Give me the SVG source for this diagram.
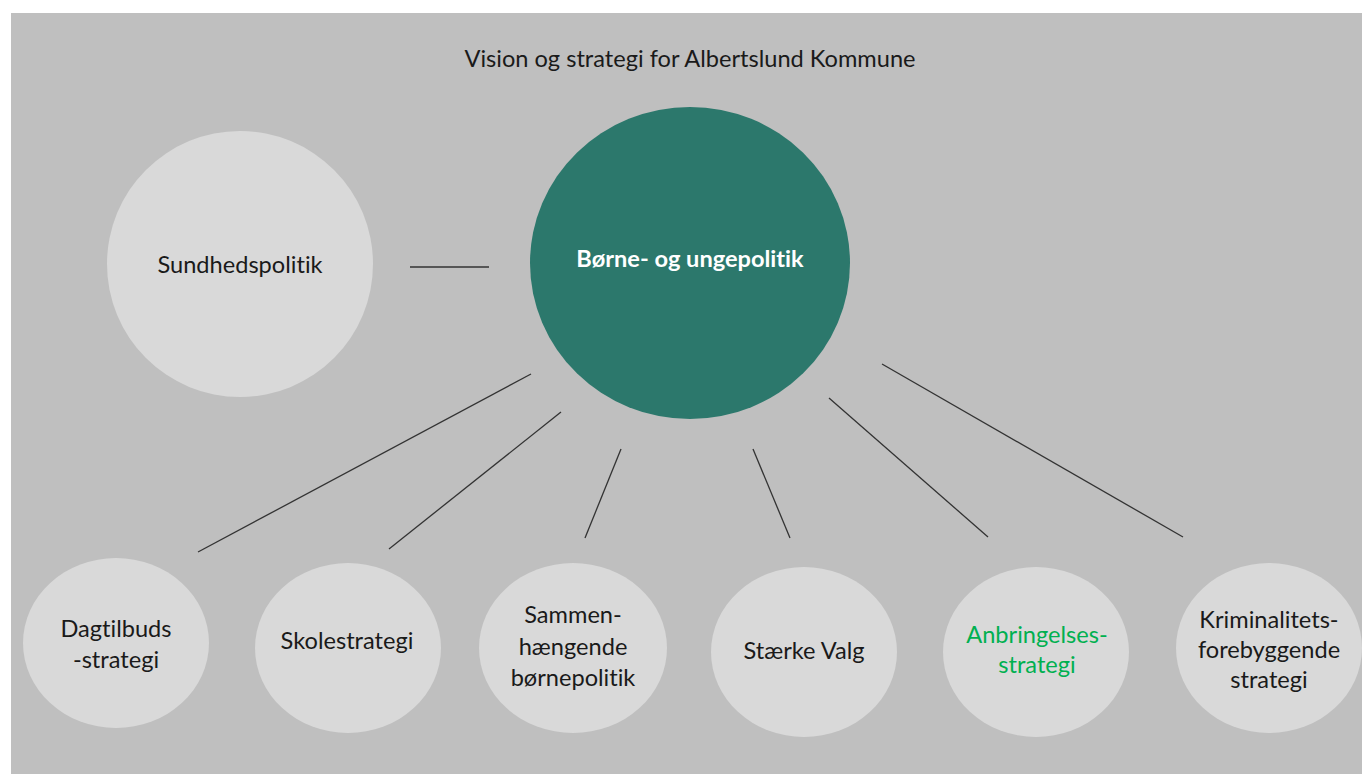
<svg xmlns="http://www.w3.org/2000/svg" width="1362" height="774" viewBox="0 0 1362 774">
<style>
.bg{fill:#bfbfbf}
.node{fill:#d9d9d9}
.main{fill:#2c786c}
.t{font-family:Lato,"Open Sans","Liberation Sans",sans-serif;font-size:23.6px;fill:#1a1a1a;text-anchor:middle;font-variant-ligatures:none;font-feature-settings:"liga" 0}
.w{fill:#ffffff;font-weight:bold}
.g{fill:#00b050}
.conn line{stroke:#333333;stroke-width:1.3;fill:none}
</style>
<rect x="0" y="0" width="1362" height="774" fill="#ffffff"/>
<rect class="bg" x="11" y="13" width="1351" height="761"/>
<text class="t" x="690" y="67">Vision og strategi for Albertslund Kommune</text>
<g class="conn" id="connectors">
<line x1="410" y1="267" x2="489" y2="267"/>
<line x1="531" y1="374" x2="198" y2="552"/>
<line x1="561" y1="412" x2="389" y2="549"/>
<line x1="621" y1="449" x2="585" y2="538"/>
<line x1="753" y1="449" x2="790" y2="538"/>
<line x1="829" y1="398" x2="988" y2="537"/>
<line x1="882" y1="364" x2="1183" y2="537"/>
</g>
<g id="sundhed">
<circle class="node" cx="240" cy="264" r="133"/>
<text class="t" x="240" y="273">Sundhedspolitik</text>
</g>
<g id="boerne">
<ellipse class="main" cx="690" cy="263" rx="160" ry="156"/>
<text class="t w" x="690" y="267">Børne- og ungepolitik</text>
</g>
<g id="dagtilbud">
<ellipse class="node" cx="116" cy="643" rx="93" ry="85"/>
<text class="t" x="116" y="637">Dagtilbuds</text>
<text class="t" x="116" y="668">-strategi</text>
</g>
<g id="skole">
<ellipse class="node" cx="348" cy="648" rx="93" ry="85"/>
<text class="t" x="347" y="649">Skolestrategi</text>
</g>
<g id="sammen">
<ellipse class="node" cx="573" cy="648" rx="94" ry="85"/>
<text class="t" x="573" y="623">Sammen-</text>
<text class="t" x="573" y="655">hængende</text>
<text class="t" x="573" y="686">børnepolitik</text>
</g>
<g id="staerke">
<ellipse class="node" cx="804" cy="652" rx="93" ry="85"/>
<text class="t" x="804" y="659">Stærke Valg</text>
</g>
<g id="anbringelse">
<ellipse class="node" cx="1036" cy="652" rx="93" ry="85"/>
<text class="t g" x="1037" y="643">Anbringelses-</text>
<text class="t g" x="1037" y="673">strategi</text>
</g>
<g id="kriminalitet">
<ellipse class="node" cx="1269" cy="648" rx="93" ry="85"/>
<text class="t" x="1269" y="628">Kriminalitets-</text>
<text class="t" x="1269" y="658">forebyggende</text>
<text class="t" x="1269" y="688">strategi</text>
</g>
</svg>
